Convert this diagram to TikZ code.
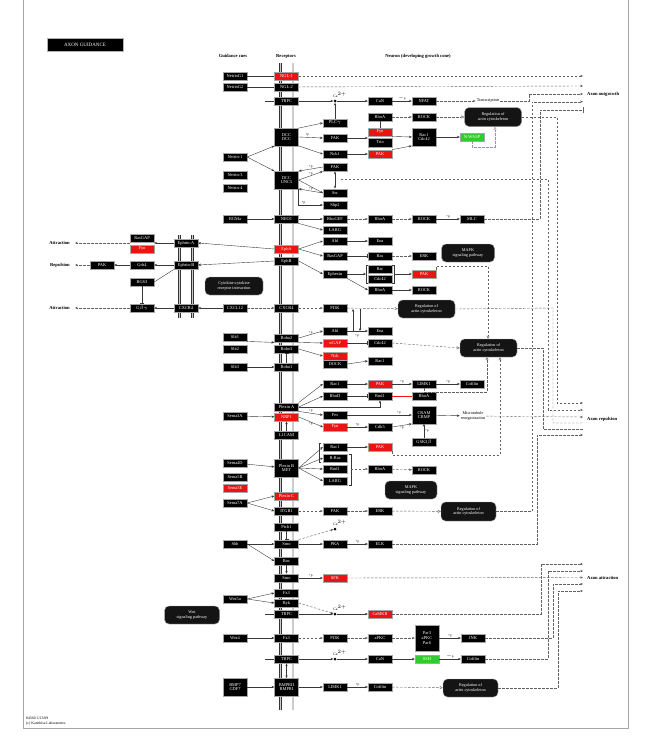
\documentclass[tikz,border=0pt]{standalone}
\usepackage{fontspec}
\setmainfont{Liberation Serif}
\usetikzlibrary{arrows.meta,calc}
\definecolor{kred}{RGB}{235,20,20}
\definecolor{kgreen}{RGB}{45,205,45}
\definecolor{kpink}{RGB}{200,120,170}
\newcommand{\kgf}{\fontsize{4.4}{4.6}\selectfont}
\newcommand{\kpf}{\fontsize{4.2}{4.8}\selectfont}
\newcommand{\klf}{\fontsize{4.6}{5.2}\selectfont\bfseries}
\newcommand{\kpp}{\fontsize{3.4}{3.8}\selectfont}
\begin{document}
\begin{tikzpicture}[x=1pt,y=-1pt,
  g/.style={draw=black!35, fill=black, text=white, font=\kgf, minimum width=24pt, minimum height=8.5pt, inner sep=0pt, line width=0.35pt},
  rd/.style={g, fill=kred},
  gn/.style={g, fill=kgreen},
  g2/.style={g, minimum height=17.5pt, align=center},
  g3/.style={g, minimum height=26pt, align=center},
  pw/.style={draw=black!35, fill=black!92, text=white, rounded corners=4.5pt, align=center, font=\kpf, inner sep=0pt, line width=0.4pt},
  ln/.style={line width=0.4pt, draw=black!78},
  ar/.style={ln, -{Stealth[length=2.8pt,width=2.4pt]}},
  da/.style={ar, draw=black!62, dash pattern=on 2.4pt off 1.6pt},
  dl/.style={ln, draw=black!62, dash pattern=on 2.4pt off 1.6pt},
  oa/.style={dl, -{Triangle[open,length=3pt,width=3pt]}},
  ih/.style={ln, -{Bar[width=4pt]}},
  dih/.style={dl, -{Bar[width=6pt]}},
  lab/.style={font=\klf, inner sep=0pt},
  pp/.style={font=\kpp, inner sep=0pt},
  cad/.style={circle, fill=black, inner sep=0pt, minimum size=3pt},
  memb/.style={line width=0.5pt, draw=black!80, double=black!20, double distance=1.7pt}
]
\useasboundingbox (0,0) rectangle (653,736);
% frame
\draw[black!35, line width=0.8pt] (23,0) -- (23,728) -- (628,728) -- (628,0);
% title
\node[g, minimum width=76pt, minimum height=13pt, font=\fontsize{5}{6}\selectfont, draw=black!30] (title) at (85,45) {AXON GUIDANCE};
\node[lab] (h1) at (233,56) {Guidance cues};
\node[lab] (h2) at (286,56) {Receptors};
\node[lab] (h3) at (418,56) {Neuron (developing growth cone)};
% membranes
\draw[memb] (280.5,63) -- (280.5,710);
\draw[memb] (293,63) -- (293,710);
\draw[memb] (179.5,235) -- (179.5,318);
\draw[memb] (192.5,235) -- (192.5,318);
% ---------- cues
\node[g] (ng1) at (235,76) {NetrinG1};
\node[g] (ng2) at (235,87) {NetrinG2};
\node[g] (net1) at (235,157) {Netrin-1};
\node[g] (net3) at (235,175) {Netrin-3};
\node[g] (net4) at (235,188) {Netrin-4};
\node[g] (rgma) at (235,219) {RGMa};
\node[g] (cxcl12) at (235,308) {CXCL12};
\node[g] (slit1) at (235,337) {Slit1};
\node[g] (slit2) at (235,349) {Slit2};
\node[g] (slit3) at (235,367) {Slit3};
\node[g] (sema3a) at (235,416) {Sema3A};
\node[g] (sema4d) at (235,463) {Sema4D};
\node[g] (sema5) at (235,477) {Sema5B};
\node[rd] (sema6) at (235,488) {Sema3E};
\node[g] (sema7a) at (235,503) {Sema7A};
\node[g] (shh) at (235,544) {Shh};
\node[g] (wnt5a) at (235,599) {Wnt5a};
\node[g] (wnt4) at (235,638) {Wnt4};
\node[g2] (bmp) at (235,687) {BMP7\\GDF7};
% ---------- receptors
\node[rd] (ngl1) at (286.5,76) {NGL-1};
\node[g] (ngl2) at (286.5,87) {NGL-2};
\node[g] (trpc1) at (286.5,101) {TRPC};
\node[g2] (dcc1) at (286.5,137) {DCC\\DCC};
\node[g2] (dcc2) at (286.5,180) {DCC\\UNC5};
\node[g] (neo1) at (286.5,219) {NEO1};
\node[rd] (epha) at (286.5,249) {EphA};
\node[g] (ephb) at (286.5,261) {EphB};
\node[g] (cxcr4) at (286.5,308) {CXCR4};
\node[g] (robo2) at (286.5,338) {Robo2};
\node[g] (robo3) at (286.5,349) {Robo3};
\node[g] (robo1) at (286.5,367) {Robo1};
\node[g] (plxa) at (286.5,407) {Plexin A};
\node[rd] (nrp1) at (286.5,417) {NRP1};
\node[g] (l1cam) at (286.5,435) {L1CAM};
\node[g2] (plxb) at (286.5,468) {Plexin B\\MET};
\node[rd] (plxc) at (286.5,496) {Plexin C};
\node[g] (itgb1) at (286.5,511) {ITGB1};
\node[g] (ptch) at (286.5,527) {Ptch1};
\node[g] (smo1) at (286.5,544) {Smo};
\node[g] (boc) at (286.5,561) {Boc};
\node[g] (smo2) at (286.5,578) {Smo};
\node[g] (fz3) at (286.5,593) {Fz3};
\node[g] (ryk) at (286.5,603) {Ryk};
\node[g] (trpc2) at (286.5,614) {TRPC};
\node[g] (fz3b) at (286.5,638) {Fz3};
\node[g] (trpc3) at (286.5,659) {TRPC};
\node[g2] (bmpr) at (286.5,687) {BMPRII\\BMPRI};
% ---------- left cell
\node[g] (efna) at (186,243) {Ephrin-A};
\node[g] (efnb) at (186,265) {Ephrin-B};
\node[g] (cxcr4L) at (186,308) {CXCR4};
\node[g] (lA1) at (142,238) {RasGAP};
\node[rd] (lA2) at (142,249) {Fyn};
\node[g] (grb4) at (142,265) {Grb4};
\node[g] (pakL) at (102,265) {PAK};
\node[g] (rgs3) at (142,282) {RGS3};
\node[g] (gbg) at (142,308) {G$\beta\gamma$};
\node[lab, anchor=east] (attr1) at (70,243) {Attraction};
\node[lab, anchor=east] (rep1) at (70,265) {Repulsion};
\node[lab, anchor=east] (attr2) at (70,308) {Attraction};
\coordinate (attr1t) at (75,243);
\coordinate (rep1t) at (75,265);
\coordinate (attr2t) at (75,308);
\node[pw, minimum width=58pt, minimum height=18pt] (cyt) at (234,286) {Cytokine-cytokine\\receptor interaction};
% ---------- neuron column A
\node[g] (plcg) at (335,123) {PLC$\gamma$};
\node[g] (fak1) at (335,138) {FAK};
\node[g] (nck1) at (335,154) {Nck1};
\node[g] (fak2) at (335,167) {FAK};
\node[g] (src) at (335,193) {Src};
\node[g] (shp2) at (335,205) {Shp2};
\node[g] (a219) at (335,219) {RhoGEF};
\node[g] (larg1) at (335,230) {LARG};
\node[g] (abl1) at (335,241) {Abl};
\node[g] (rasgap) at (335,256) {RasGAP};
\node[g] (ephexin) at (335,274) {Ephexin};
\node[g] (pi3k2) at (335,308) {PI3K};
\node[g] (abl2) at (335,331) {Abl};
\node[rd] (srgap) at (335,343) {srGAP};
\node[rd] (nck2) at (335,356) {Nck};
\node[g] (dock) at (335,364) {DOCK};
\node[g] (rac4) at (335,384) {Rac1};
\node[g] (rhod) at (335,396) {RhoD};
\node[g] (fes) at (335,415) {Fes};
\node[rd] (fyn2) at (335,427) {Fyn};
\node[g] (rac5) at (335,447) {Rac1};
\node[g] (rras) at (335,458) {R-Ras};
\node[g] (rnd1b) at (335,469) {Rnd1};
\node[g] (larg2) at (335,481) {LARG};
\node[g] (fak3) at (335,511) {FAK};
\node[g] (a544) at (335,544) {PKA};
\node[rd] (sfk) at (335,578) {SFK};
\node[g] (a638) at (335,638) {PI3K};
\node[g] (limk2) at (335,687) {LIMK1};
% Ca dots
\node[cad] (ca1) at (335,101) {};
\node[cad] (ca2) at (335,529) {};
\node[cad] (ca3) at (335,614) {};
\node[cad] (ca4) at (335,659) {};
\node[pp, font=\fontsize{3.8}{4}\selectfont] at (340,95) {Ca$^{2+}$};
\node[pp, font=\fontsize{3.8}{4}\selectfont] at (340,523) {Ca$^{2+}$};
\node[pp, font=\fontsize{3.8}{4}\selectfont] at (340,608) {Ca$^{2+}$};
\node[pp, font=\fontsize{3.8}{4}\selectfont] at (340,653) {Ca$^{2+}$};
% ---------- column B
\node[g] (can1) at (380,101) {CaN};
\node[g] (rhoa1) at (380,117) {RhoA};
\node[rd] (fyn1) at (380,132) {Fyn};
\node[g] (trio) at (380,142.5) {Trio};
\node[rd] (pak1) at (380,154) {PAK};
\node[g] (rhoa2) at (380,219) {RhoA};
\node[g] (ena1) at (380,241) {Ena};
\node[g] (ras) at (380,256) {Ras};
\node[g] (rac2) at (380,269) {Rac};
\node[g] (cdc42b) at (380,279) {Cdc42};
\node[g] (rhoa3) at (380,290) {RhoA};
\node[g] (ena2) at (380,331) {Ena};
\node[g] (cdc42c) at (380,343) {Cdc42};
\node[g] (rac3) at (380,361) {Rac1};
\node[rd] (pak3) at (380,384) {PAK};
\node[g] (rnd1) at (380,396) {Rnd1};
\node[g] (cdk5) at (380,427) {Cdk5};
\node[rd] (pak4) at (380,447) {PAK};
\node[g] (rhoa5) at (380,469) {RhoA};
\node[g] (erk3) at (380,511) {ERK};
\node[g] (b544) at (380,544) {ELK};
\node[rd] (camk) at (380,614) {CaMKII};
\node[g] (b638) at (380,638) {aPKC};
\node[g] (can2) at (380,659) {CaN};
\node[g] (cof3) at (380,687) {Cofilin};
% ---------- column C
\node[g] (nfat) at (424,101) {NFAT};
\node[g] (rock1) at (424,117) {ROCK};
\node[g2] (raccdc) at (424,137) {Rac1\\Cdc42};
\node[g] (rock2) at (424,219) {ROCK};
\node[g] (erk1) at (424,256) {ERK};
\node[rd] (pak2) at (424,274) {PAK};
\node[g] (rock3) at (424,290) {ROCK};
\node[g] (limk1) at (424,384) {LIMK1};
\node[g] (rhoa4) at (424,396) {RhoA};
\node[g2] (cram) at (424,415) {CRAM\\CRMP};
\node[g] (gsk3b) at (424,442) {GSK3$\beta$};
\node[g] (rock5) at (424,470) {ROCK};
\node[g3] (par) at (427,638) {Par3\\aPKC\\Par6};
\node[gn] (ssh) at (427,659) {SSH};
% ---------- column D
\node[gn] (nwasp) at (472,137) {N-WASP};
\node[g] (mlc) at (472,219) {MLC};
\node[g] (cof1) at (472,384) {Cofilin};
\node[g] (jnk) at (473,638) {JNK};
\node[g] (cof2) at (473,659) {Cofilin};
% ---------- pathway boxes
\node[pw, minimum width=57pt, minimum height=19pt] (p1) at (493,117) {Regulation of\\actin cytoskeleton};
\node[pw, minimum width=53pt, minimum height=18pt] (p2) at (468,253) {MAPK\\signaling pathway};
\node[pw, minimum width=57pt, minimum height=18pt] (p4) at (426.5,309) {Regulation of\\actin cytoskeleton};
\node[pw, minimum width=57pt, minimum height=18pt] (p5) at (488.5,348) {Regulation of\\actin cytoskeleton};
\node[pw, minimum width=52pt, minimum height=18pt] (p6) at (411,490) {MAPK\\signaling pathway};
\node[pw, minimum width=55pt, minimum height=19pt] (p7) at (468.5,511.5) {Regulation of\\actin cytoskeleton};
\node[pw, minimum width=55pt, minimum height=18pt] (p8) at (192,615) {Wnt\\signaling pathway};
\node[pw, minimum width=55pt, minimum height=18pt] (p9) at (470.5,688) {Regulation of\\actin cytoskeleton};
% texts
\node[font=\kpf, inner sep=1pt] (tx) at (488,101) {Transcription};
\node[font=\kpf, inner sep=1pt, align=center] (mt) at (473,416) {Microtubule\\reorganization};
\node[lab, anchor=west] (outg) at (587,94) {Axon outgrowth};
\node[lab, anchor=west] (orep) at (587,419) {Axon repulsion};
\node[lab, anchor=west] (oatt) at (587,578) {Axon attraction};
\node[font=\fontsize{3.8}{4.3}\selectfont, anchor=west, align=left, inner sep=0pt] (foot) at (26,721) {04360 1/23/09\\(c) Kanehisa Laboratories};
% output coordinates
\coordinate (og1) at (583,76);
\coordinate (og2) at (583,86);
\coordinate (og3) at (583,94);
\coordinate (og4) at (583,101.7);
\coordinate (og5) at (583,110);
\coordinate (or1) at (583,403);
\coordinate (or2) at (583,410);
\coordinate (or3) at (583,417);
\coordinate (or4) at (583,423);
\coordinate (or5) at (583,429);
\coordinate (or6) at (583,435);
\coordinate (oa1) at (583,564);
\coordinate (oa2) at (583,571);
\coordinate (oa3) at (583,577.5);
\coordinate (oa4) at (583,584);
\coordinate (oa5) at (583,591);
% ================= connectors
% Netrin-G
\draw[ln] (ng1) -- (ngl1);
\draw[ln] (ng2) -- (ngl2);
\draw[da] (ngl1) -- (og1);
\draw[da] (ngl2) -- (og2);
% TRPC / Ca / NFAT
\coordinate (t1L) at (265,101);
\draw[ln] (t1L) -- (trpc1);
\draw[ar] (trpc1) -- (ca1);
\draw[ar] (ca1) -- (can1);
\draw[ar] (can1) -- node[pp, above=0.6pt] {$-$p} (nfat);
\draw[da] (nfat) -- (tx);
\coordinate (k529) at (529,101);
\draw[da] (tx.east) -- (k529) |- (og3);
\draw[ar] (plcg) -- (ca1);
% Netrin
\draw[ar] (net1.east) -- (dcc1.south west);
\draw[ar] (net1.east) -- (dcc2.north west);
\draw[ar] (dcc1.north east) -- (plcg.west);
\draw[ar] (dcc1.east) -- node[pp, above=0.5pt, pos=0.35] {+p} (fak1.west);
\draw[ar] (dcc1.south east) -- (nck1.west);
\draw[ar] (fak1) -- (fak1 -| fyn1.west);
\draw[ln] (rhoa1) -- (fyn1);
\draw[da] (rhoa1) -- (rock1);
\draw[oa] (rock1) -- (p1);
\draw[ar] (fyn1.south east) -- (raccdc.west);
\draw[ar] (nck1) -- (pak1);
\draw[ar] (pak1.north east) -- (raccdc.south west);
\draw[ar] (raccdc) -- (nwasp);
\coordinate (k147) at (495,147);
\draw[oa, draw=kpink] (nwasp.south) |- (k147) -- (k147 |- p1.south);
\draw[ar] (fak2.west) -- node[pp, above=0.6pt] {+p} (dcc2.north east);
\draw[ar] (dcc2.east) -- node[pp, above=0.6pt] {+p} (fak2.south west);
\draw[ar] (dcc2.east) -- node[pp, below=0.6pt] {+p} (src.west);
\draw[ar] (src.west) -- (dcc2.south east);
\draw[{Stealth[length=2.6pt,width=2.2pt]}-{Stealth[length=2.6pt,width=2.2pt]}, ln] (fak2) -- (src);
\coordinate (k179) at (341,179);
\draw[da] (k179) -- (548,179) |- (or2);
\draw[ar] (dcc2.south east) |- node[pp, pos=0.6, above=0.5pt] {+p} (shp2.west);
% RGMa
\draw[ar] (rgma) -- (neo1);
\draw[ar] (neo1) -- (a219);
\draw[da] (a219) -- (rhoa2);
\draw[da] (rhoa2) -- (rock2);
\draw[ar] (rock2) -- node[pp, above=0.6pt] {+p} (mlc);
\draw[dih] (mlc) -- (540,219) |- (og5);
\draw[ar] (neo1.south east) -- (larg1.west);
% Eph / left cell
\draw[ar] (epha.west) -- (efna.east);
\draw[ar] (ephb.west) -- (efnb.east);
\draw[ar] (efna.west) -- (efna.west -| lA1.east);
\draw[da] (efna.west -| lA1.west) -- (attr1t);
\draw[ar] (efnb) -- (grb4);
\draw[ar] (grb4) -- (pakL);
\draw[da] (pakL) -- (rep1t);
\draw[ln] (efnb.south west) -- (rgs3.east);
\draw[ih] (rgs3) -- (gbg);
\draw[ar] (cxcl12.west) -- (cxcr4L.east);
\draw[ar] (cxcr4L) -- (gbg);
\draw[da] (gbg) -- (attr2t);
\draw[ar] (epha.east) -- (abl1.west);
\draw[ar] (epha.east) -- (rasgap.west);
\draw[ar] (ephb.east) -- (ephexin.west);
\draw[ar] (abl1) -- (ena1);
\draw[ih] (rasgap) -- (ras);
\draw[da] (ras) -- (erk1);
\draw[ln] (368,265) -- (366,265) -- (366,283) -- (368,283);
\draw[ln] (392,265) -- (394,265) -- (394,283) -- (392,283);
\draw[ar] (ephexin) -- (366,274);
\draw[ar] (394,274) -- (pak2);
\draw[ar] (ephexin.south east) -- (rhoa3.west);
\draw[ar] (rhoa3) -- (rock3);
\coordinate (k266) at (488,266);
\draw[oa] (pak2.north east) |- (k266) -- (k266 |- p5.north);
% CXCR4
\draw[da] (cxcl12) -- (cxcr4);
\draw[da] (cxcr4) -- (pi3k2);
\draw[oa] (pi3k2) -- (p4);
\draw[dl] (p4.east) -- (553,308) |- (or4);
\draw[ar] (353,331) -- (353,309);
\draw[ar] (360,309) -- (360,331);
\node[pp] at (357,335.5) {+p};
% Slit / Robo
\draw[ar] (slit1.south east) -- (robo2.south west);
\draw[ar] (slit3) -- (robo1);
\draw[ih] (robo1) -- (robo3);
\draw[ar] (robo2.east) -- node[pp, above=0.5pt] {+p} (abl2.west);
\draw[ar] (robo2.south east) -- (srgap.west);
\draw[ar] (robo3.east) -- (nck2.west);
\draw[ar] (abl2) -- (ena2);
\draw[ih] (srgap) -- (cdc42c);
\draw[ar] (dock.east) -- (rac3.west);
\draw[oa] (cdc42c.east) -- (p5.west);
\draw[dl] (p5.east) -- (543,348) |- (or5);
% Sema3A
\draw[ar] (sema3a) -- (nrp1);
\draw[ar] (l1cam) -- (nrp1);
\draw[ar] (plxa.north east) -- (rac4.west);
\draw[ar] (plxa.east) -- (rhod.west);
\draw[ar] (plxa.east) -| (rnd1.south);
\draw[ar] (plxa.south east) -- node[pp, above=0.5pt] {+p} (fes.west);
\draw[ar] (nrp1.east) -- node[pp, below=0.5pt] {+p} (fyn2.west);
\draw[ar] (rac4) -- (pak3);
\draw[ar] (pak3) -- node[pp, above=0.6pt] {+p} (limk1);
\draw[ar] (limk1) -- node[pp, above=0.6pt] {+p} (cof1);
\coordinate (k392) at (487,392);
\draw[oa] (limk1.south) |- (k392) -- (k392 |- p5.south);
\draw[ih] (rhod) -- (rnd1);
\draw[line width=0.45pt, draw=kred] (rnd1) -- (rhoa4);
\draw[ar] (fes) -- node[pp, above=0.5pt, pos=0.8] {+p} (fes -| cram.west);
\draw[ar] (fyn2) -- node[pp, above=0.5pt] {+p} (cdk5);
\draw[ar] (cdk5.east) -- node[pp, below=0.6pt] {+p} (cram.south west);
\draw[ar] (gsk3b) -- node[pp, right=1pt] {+p} (cram);
\draw[ar] (cram) -- (mt);
\draw[da] (mt) -- (or3);
% Plexin B
\draw[ar] (sema4d) -- (plxb);
\draw[ar] (plxb.east) -- (rac5.west);
\draw[ar] (plxb.east) -- (rras.west);
\draw[ar] (plxb.east) -- (rnd1b.west);
\draw[ar] (plxb.east) -- (larg2.west);
\draw[ar] (rac5) -- (pak4);
\coordinate (k455) at (500,455);
\draw[oa] (pak4.south east) |- (k455) -- (k455 |- p5.south);
\draw[ln] (321,443) -- (319,443) -- (319,462) -- (321,462);
\draw[ln] (349,454) -- (351,454) -- (351,485) -- (349,485);
\draw[da] (351,469) -- (rhoa5);
\draw[da] (rhoa5) -- (rock5);
% Sema7A / ITGB1
\draw[ar] (sema7a.east) -- (plxc.west);
\draw[ar] (sema7a.east) -- (itgb1.west);
\draw[da] (itgb1) -- (fak3);
\draw[da] (fak3) -- (erk3);
\draw[oa] (erk3) -- (p7);
\draw[da] (p7) -- (532,511.5) |- (og4);
% Shh
\draw[ih] (ptch) -- (smo1);
\draw[ar] (shh) -- (smo1);
\draw[ar] (shh.east) -- (boc.west);
\draw[da] (smo1.north east) -- (ca2);
\draw[ar] (smo1) -- (a544);
\draw[ar] (a544) -- node[pp, above=0.6pt] {+p} (b544);
\draw[da] (b544) -- (537,544) |- (or6);
\draw[ar] (boc) -- (smo2);
\draw[ar] (smo2) -- node[pp, above=0.6pt] {+p} (sfk);
\draw[da] (sfk) -- (oa3);
% Wnt5a
\draw[ar] (wnt5a.east) -- (fz3.west);
\draw[ar] (wnt5a.east) -- (ryk.west);
\draw[da] (ryk.east) -- (ca3);
\coordinate (t2L) at (265,614);
\draw[ln] (t2L) -- (trpc2);
\draw[ar] (trpc2) -- (ca3);
\draw[ar] (ca3) -- (camk);
\draw[da] (camk) -- (541,614) |- (oa1);
% Wnt4
\draw[ar] (wnt4) -- (fz3b);
\draw[da] (fz3b) -- (a638);
\draw[da] (a638) -- (b638);
\draw[da] (b638) -- (par);
\draw[ar] (par) -- node[pp, above=0.6pt] {+p} (jnk);
\draw[da] (jnk) -- (553,638) |- (oa4);
% TRPC3
\coordinate (t3L) at (265,659);
\draw[ln] (t3L) -- (trpc3);
\draw[ar] (trpc3) -- (ca4);
\draw[ar] (ca4) -- (can2);
\draw[ar] (can2) -- (ssh);
\draw[ar] (ssh) -- node[pp, above=0.6pt] {$-$p} (cof2);
\draw[da] (cof2) -- (548,659) |- (oa2);
\draw[{Stealth[length=2.6pt,width=2.2pt]}-{Stealth[length=2.6pt,width=2.2pt]}, ln] (trpc3) -- (bmpr);
% BMP
\draw[ar] (bmp) -- (bmpr);
\draw[ar] (bmpr) -- (limk2);
\draw[ar] (limk2) -- node[pp, above=0.6pt] {+p} (cof3);
\draw[oa] (cof3) -- (p9);
\draw[da] (p9) -- (558,688) |- (oa5);
% remaining repulsion feed
\draw[da] (p1.east) -- (557,117) |- (or1);
\end{tikzpicture}
\end{document}
